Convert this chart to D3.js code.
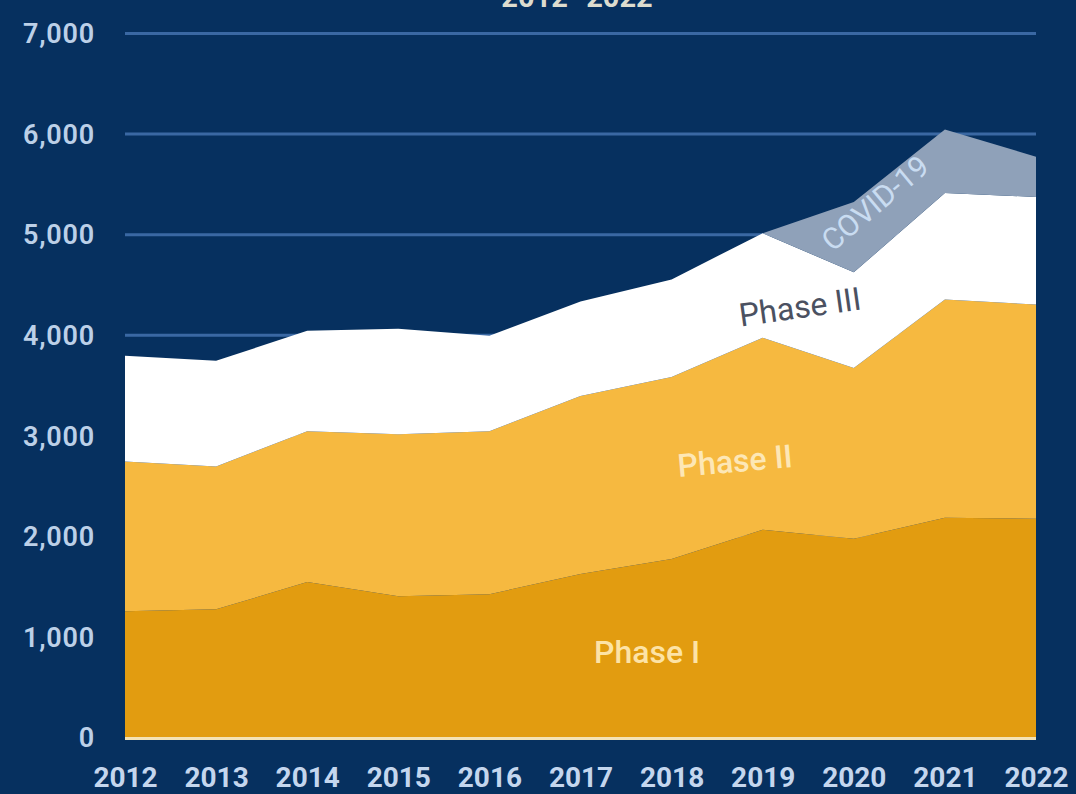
<!DOCTYPE html>
<html>
<head>
<meta charset="utf-8">
<script src="https://cdn.jsdelivr.net/npm/d3@7"></script>
<style>
  html, body { margin: 0; padding: 0; background: #06305f; }
  svg { display: block; }
</style>
</head>
<body>
<svg id="chart" width="1076" height="794"></svg>
<script>
// Clinical trials started per year, by phase
const years   = [2012, 2013, 2014, 2015, 2016, 2017, 2018, 2019, 2020, 2021, 2022];
const phase1  = [1250, 1270, 1540, 1400, 1420, 1620, 1770, 2060, 1970, 2180, 2170];
const phase2  = [1490, 1420, 1500, 1610, 1620, 1770, 1810, 1910, 1700, 2170, 2130];
const phase3  = [1050, 1050, 1000, 1050,  950,  940,  970, 1040,  950, 1060, 1070];
const covid19 = [   0,    0,    0,    0,    0,    0,    0,    0,  700,  630,  400];
const yTicks  = [0, 1000, 2000, 3000, 4000, 5000, 6000, 7000];
const seriesKeys = ["Phase I", "Phase II", "Phase III", "COVID-19"];

const rows = years.map((yr, i) => ({
  year: yr,
  "Phase I": phase1[i],
  "Phase II": phase2[i],
  "Phase III": phase3[i],
  "COVID-19": covid19[i]
}));

const svg = d3.select("#chart");
const W = 1076, H = 794;
const plotLeft = 125, plotRight = 1036, plotTop = 33, plotBottom = 737;

const x = d3.scaleLinear().domain([2012, 2022]).range([plotLeft, plotRight]);
const y = d3.scaleLinear().domain([0, 7000]).range([plotBottom, plotTop]);

const fills = {
  "Phase I": "#e29c10",
  "Phase II": "#f6b940",
  "Phase III": "#ffffff",
  "COVID-19": "#8fa1b9"
};

svg.append("rect").attr("width", W).attr("height", H).attr("fill", "#06305f");

// subtitle, partly above the top edge
svg.append("text")
  .attr("x", 577).attr("y", 7)
  .attr("text-anchor", "middle")
  .attr("font-family", "Roboto, sans-serif")
  .attr("font-weight", 700)
  .attr("font-size", 29)
  .attr("fill", "#dcdccf")
  .text("2012–2022");

// horizontal gridlines
const grid = svg.append("g")
  .attr("transform", `translate(${plotLeft},0)`)
  .call(d3.axisLeft(y).tickValues(yTicks.filter(d => d > 0)).tickSize(-(plotRight - plotLeft)).tickFormat(""));
grid.select(".domain").remove();
grid.selectAll("line").attr("stroke", "#3a68a3").attr("stroke-width", 3);

// stacked areas
const layers = d3.stack().keys(seriesKeys)(rows);
const area = d3.area()
  .x(d => x(d.data.year))
  .y0(d => y(d[0]))
  .y1(d => y(d[1]));

svg.append("g").selectAll("path")
  .data(layers)
  .join("path")
  .attr("d", area)
  .attr("fill", d => fills[d.key]);

// baseline
svg.append("line")
  .attr("x1", plotLeft).attr("x2", plotRight)
  .attr("y1", y(0) + 1.5).attr("y2", y(0) + 1.5)
  .attr("stroke", "#f4e2b4").attr("stroke-width", 3);

// y axis labels
const yAxis = svg.append("g")
  .attr("transform", `translate(${plotLeft - 30},0)`)
  .call(d3.axisLeft(y).tickValues(yTicks).tickSize(0).tickFormat(d3.format(",")));
yAxis.select(".domain").remove();
yAxis.selectAll("text")
  .attr("font-family", "Roboto, sans-serif")
  .attr("font-weight", 600)
  .attr("font-size", 27)
  .attr("letter-spacing", 0.8)
  .attr("fill", "#bcd0e8")
  .attr("dy", "0.36em")
  .attr("x", 0);

// x axis labels
const xAxis = svg.append("g")
  .attr("transform", `translate(0,${plotBottom + 30})`)
  .call(d3.axisBottom(x).tickValues(years).tickSize(0).tickFormat(d3.format("d")));
xAxis.select(".domain").remove();
xAxis.selectAll("text")
  .attr("font-family", "Roboto, sans-serif")
  .attr("font-weight", 700)
  .attr("font-size", 28)
  .attr("fill", "#c4d6ee")
  .attr("dy", "0.72em")
  .attr("y", 0);

// series labels inside the bands
const labels = [
  { text: "Phase I",   x: 647, y: 652, rot: 0,   fill: "#fde3a6", size: 32, weight: 500 },
  { text: "Phase II",  x: 735, y: 461, rot: -5,  fill: "#fde7b6", size: 32, weight: 500 },
  { text: "Phase III", x: 800, y: 307, rot: -8,  fill: "#4b5161", size: 32, weight: 400 },
  { text: "COVID-19",  x: 875, y: 203, rot: -40, fill: "#c9dcf1", size: 30, weight: 400 }
];
svg.append("g").selectAll("text")
  .data(labels)
  .join("text")
  .attr("transform", d => `translate(${d.x},${d.y}) rotate(${d.rot})`)
  .attr("text-anchor", "middle")
  .attr("dominant-baseline", "central")
  .attr("font-family", "Roboto, sans-serif")
  .attr("font-weight", d => d.weight)
  .attr("font-size", d => d.size)
  .attr("fill", d => d.fill)
  .text(d => d.text);
</script>
</body>
</html>
